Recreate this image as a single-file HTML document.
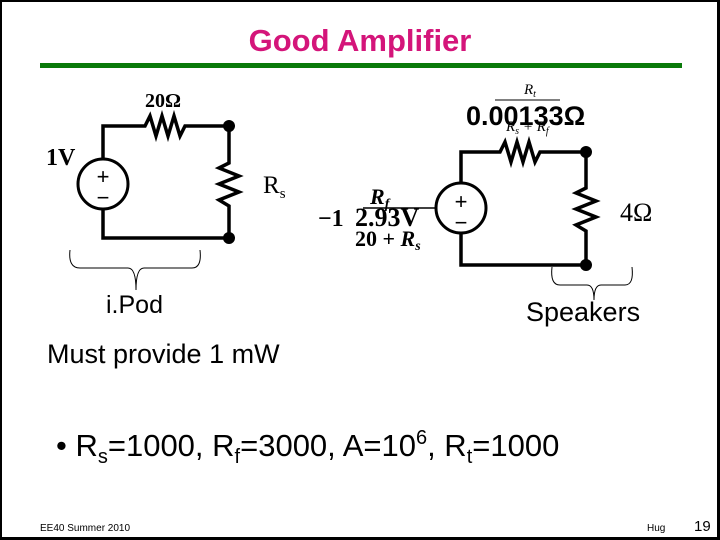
<!DOCTYPE html>
<html><head><meta charset="utf-8"><style>
html,body{margin:0;padding:0;background:#000;}
svg{display:block;}
</style></head><body>
<svg width="720" height="540" viewBox="0 0 720 540" xmlns="http://www.w3.org/2000/svg" font-family="Liberation Sans, sans-serif">
<rect x="2" y="2" width="715" height="535" fill="#fff"/>
<text x="360" y="51" text-anchor="middle" font-size="31" font-weight="bold" fill="#d4157a">Good Amplifier</text>
<rect x="40" y="63" width="642" height="5" fill="#0a7a0a"/>

<g stroke="#000" stroke-width="3.5" fill="none" stroke-linejoin="miter">
<polyline points="103,159 103,126 145,126 150,116 156,136 162,116 168,136 174,116 180,136 185,126 229,126 229,163 219,168 239,176 219,184 239,192 219,200 229,206 229,238 103,238 103,209"/>
<circle cx="103" cy="184" r="25" stroke-width="3"/>
<polyline points="461,183 461,152 500,152 505,142 511,162 517,142 523,162 529,142 535,162 540,152 586,152 586,188 576,193 596,201 576,209 596,217 576,225 586,231 586,265 461,265 461,233"/>
<circle cx="461" cy="208" r="25" stroke-width="3"/>
<line x1="363" y1="208" x2="436" y2="208" stroke-width="1.5"/>
</g>
<g fill="#000">
<circle cx="229" cy="126" r="6"/><circle cx="229" cy="238" r="6"/>
<circle cx="586" cy="152" r="6"/><circle cx="586" cy="265" r="6"/>
</g>
<g font-family="Liberation Sans, sans-serif" font-size="22" text-anchor="middle">
<text x="103" y="184">+</text><text x="103" y="205">−</text>
<text x="461" y="209">+</text><text x="461" y="230">−</text>
</g>
<g font-family="Liberation Serif, serif">
<text x="145" y="107" font-size="20" font-weight="bold">20Ω</text>
<text x="46" y="165" font-size="24" font-weight="bold">1V</text>
<text x="263" y="193" font-size="25">R<tspan font-size="15" dy="5">s</tspan></text>
<text x="620" y="221" font-size="26">4Ω</text>
<text x="318" y="226" font-size="24" font-weight="bold">−1</text>
<text x="355" y="226" font-size="26" font-weight="bold">2.93V</text>
<text x="370" y="204" font-size="22" font-weight="bold" font-style="italic">R<tspan font-size="14" dy="4">f</tspan></text>
<text x="355" y="246" font-size="22" font-weight="bold">20 + <tspan font-style="italic">R</tspan><tspan font-size="14" dy="4" font-style="italic">s</tspan></text>
<text x="524" y="94" font-size="15" font-style="italic">R<tspan font-size="10" dy="3">t</tspan></text>
<line x1="495" y1="100" x2="560" y2="100" stroke="#000" stroke-width="1"/>
<text x="506" y="131" font-size="15" font-style="italic">R<tspan font-size="10" dy="3">s</tspan><tspan dy="-3"> + R</tspan><tspan font-size="10" dy="3">f</tspan></text>
</g>
<text x="466" y="125" font-size="27" font-weight="bold">0.00133Ω</text>

<g stroke="#000" stroke-width="1" fill="none">
<path d="M70,250 Q68,268 80,268 L128,268 Q136,268 136,290 Q136,268 144,268 L192,268 Q202,268 200,250"/>
<path d="M552,267 Q550,285 560,285 L587,285 Q594,285 594,300 Q594,285 601,285 L625,285 Q634,285 632,267"/>
</g>
<text x="106" y="313" font-size="25">i.Pod</text>
<text x="526" y="321" font-size="27">Speakers</text>
<text x="47" y="363" font-size="27">Must provide 1 mW</text>
<text x="56" y="456" font-size="31">• R<tspan font-size="20" dy="7">s</tspan><tspan dy="-7">=1000, R</tspan><tspan font-size="20" dy="7">f</tspan><tspan dy="-7">=3000, A=10</tspan><tspan font-size="20" dy="-12">6</tspan><tspan dy="12">, R</tspan><tspan font-size="20" dy="7">t</tspan><tspan dy="-7">=1000</tspan></text>
<text x="40" y="531" font-size="10">EE40 Summer 2010</text>
<text x="647" y="531" font-size="10">Hug</text>
<text x="694" y="531" font-size="15">19</text>
</svg>
</body></html>
